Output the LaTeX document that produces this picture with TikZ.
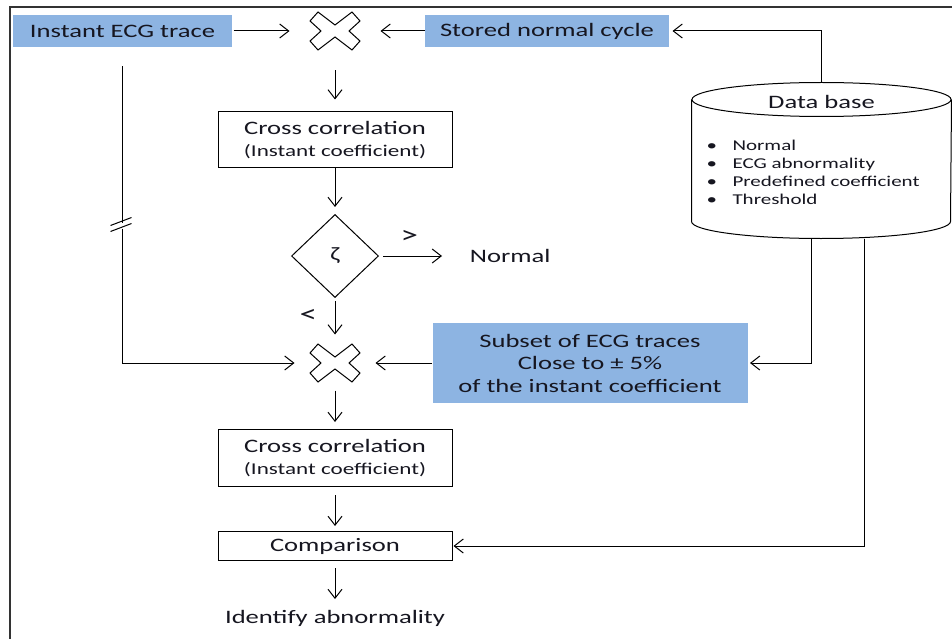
\documentclass[tikz,border=0pt]{standalone}
\usepackage{fontspec}
\setmainfont{Carlito}[FakeStretch=1.4]
\usepackage{tikz}
\usetikzlibrary{positioning,shapes.geometric,arrows.meta}

\definecolor{boxblue}{RGB}{141,180,226}
\definecolor{ink}{RGB}{22,22,32}
\newcommand{\subsize}{\fontsize{16.5}{20}\selectfont}

\tikzset{
	block/.style={draw, rectangle, minimum width=234pt, inner sep=0pt, align=center},
	bluebox/.style={fill=boxblue, rectangle, inner sep=0pt, minimum height=32pt, align=center},
	mixer/.style={rectangle, minimum width=50pt, minimum height=38pt, inner sep=0pt},
	decision/.style={draw, diamond, minimum width=87pt, minimum height=83pt, inner sep=0pt},
	xmark/.pic={\draw (-17,19) -- (0,6) -- (17,19) -- (25,10) -- (14,0) -- (25,-10) -- (17,-19) -- (0,-6) -- (-17,-19) -- (-25,-10) -- (-14,0) -- (-25,10) -- cycle;},
	cmp/.style={font=\fontsize{25}{25}\selectfont}
}

\begin{document}
\begin{tikzpicture}[x=1pt,y=1pt,node distance=100pt,on grid,line width=1pt,
		>={Straight Barb[length=9pt,width=14pt]},
		font=\fontsize{19}{22.5}\selectfont,text=ink]
	\useasboundingbox (0,0) rectangle (952,-639);
	% frame
	\draw[line width=2.2pt, black!80] (10,-650) -- (10,-7) -- (970,-7);

	\node[mixer] (mix1) at (335,-31) {};
	\pic at (mix1) {xmark};
	\node[bluebox, minimum width=219pt] (inp) [left=212.5pt of mix1] {Instant ECG trace};
	\node[bluebox, minimum width=244pt] (stored) [right=212pt of mix1] {Stored normal cycle};
	\node[block, minimum height=56pt] (cc1) [below=109pt of mix1] {Cross correlation\\[-1pt]{\subsize (Instant coefficient)}};
	\node[decision] (zeta) [below=116pt of cc1] {ζ};
	\node (normal) [right=131pt of zeta, anchor=west] {Normal};
	\node[mixer] (mix2) [below=107pt of zeta] {};
	\pic at (mix2) {xmark};
	\node[bluebox, minimum width=315pt, minimum height=80pt] (subset) [right=255pt of mix2]
		{Subset of ECG traces\\Close to ± 5\%\\of the instant coefficient};
	\node[block, minimum height=57pt] (cc2) [below=95pt of mix2] {Cross correlation\\[-1pt]{\subsize (Instant coefficient)}};
	\node[block, minimum height=29pt] (comp) [below=88pt of cc2] {Comparison};
	\node (result) [below=72pt of comp] {Identify abnormality};

	% data base
	\node[minimum width=259pt, minimum height=155pt, inner sep=0pt] (db) at (821.5,-160.5) {};
	\draw ([yshift=-17pt]db.north west) -- ([yshift=17pt]db.south west)
		arc[start angle=180, end angle=360, x radius=129.5pt, y radius=17pt] -- ([yshift=-17pt]db.north east);
	\draw ([yshift=-17pt]db.north) ellipse[x radius=129.5pt, y radius=17pt];
	\node (dbtitle) at ([yshift=-19pt]db.north) {Data base};
	\node[align=left, inner sep=0pt, anchor=west, font=\fontsize{15}{18}\selectfont] (dblist) at (706,-172)
		{\makebox[26pt][l]{\textbullet}Normal\\
		 \makebox[26pt][l]{\textbullet}ECG abnormality\\
		 \makebox[26pt][l]{\textbullet}Predefined coefficient\\
		 \makebox[26pt][l]{\textbullet}Threshold};

	\path[->]
		(inp) edge[shorten <=1pt, shorten >=20pt] (mix1)
		(stored) edge[shorten >=20pt] (mix1)
		(mix1) edge[shorten <=20pt, shorten >=12pt] (cc1)
		(cc1) edge[shorten >=7pt] (zeta)
		(zeta) edge[shorten <=4pt, shorten >=24pt] node[cmp, above=9pt, pos=0.35] {>} (normal)
		(zeta) edge[shorten <=3pt, shorten >=9pt] node[cmp, left=14pt, pos=0.4] {<} (mix2)
		(subset) edge[shorten >=15pt] (mix2)
		(mix2) edge[shorten <=8pt, shorten >=7pt] (cc2)
		(cc2) edge[shorten <=8pt, shorten >=5pt] (comp)
		(comp) edge[shorten <=7pt, shorten >=7pt] (result);

	% trunk with break mark
	\coordinate (brk) at ([yshift=-177pt]inp.south);
	\draw[shorten <=19pt] (inp.south) -- ([yshift=2pt]brk);
	\draw[->, shorten >=15pt] ([yshift=-4pt]brk) |- (mix2);
	\draw ([shift={(-12pt,-1pt)}]brk) -- ([shift={(9pt,7pt)}]brk);
	\draw ([shift={(-12pt,-7pt)}]brk) -- ([shift={(9pt,1pt)}]brk);

	\draw[->, shorten >=3pt] (db.north) |- (stored);
	\draw[->, shorten >=2pt] ([xshift=-10pt]db.south) |- (subset);
	\draw[->, shorten >=1pt] ([xshift=43pt]db.south) |- (comp);
\end{tikzpicture}
\end{document}
